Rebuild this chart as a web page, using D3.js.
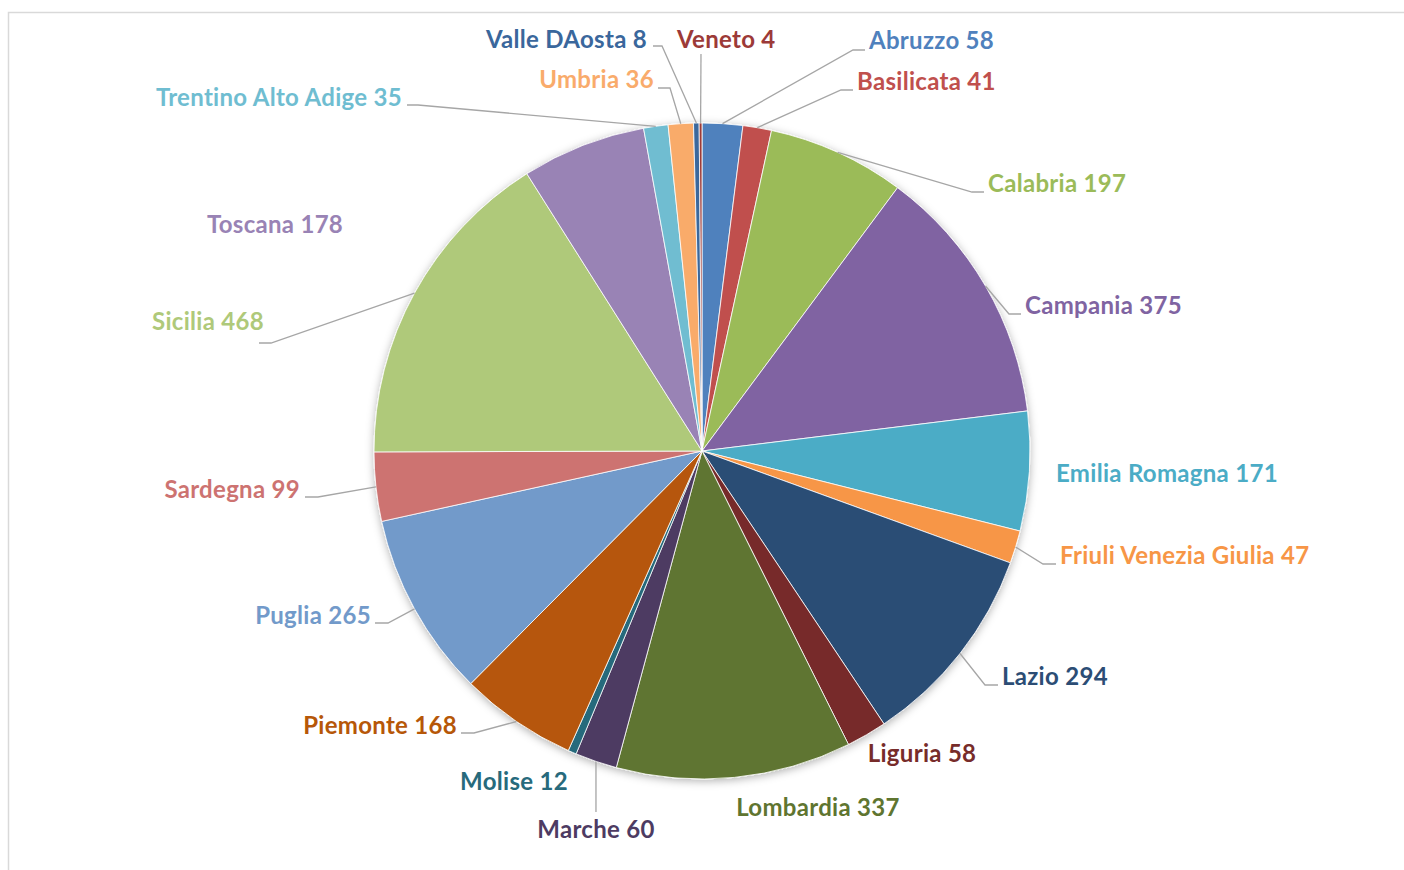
<!DOCTYPE html>
<html>
<head>
<meta charset="utf-8">
<script src="https://cdn.jsdelivr.net/npm/d3@7"></script>
<style>
  body { margin: 0; background: #fff; }
  text { font-family: Lato, "Open Sans", sans-serif; font-weight: bold; }
</style>
</head>
<body>
<script>
var w = 1404;
var h = 870;

// regions and counts, in the order they are drawn clockwise from 12 o'clock
var regions = ["Abruzzo", "Basilicata", "Calabria", "Campania", "Emilia Romagna",
  "Friuli Venezia Giulia", "Lazio", "Liguria", "Lombardia", "Marche", "Molise",
  "Piemonte", "Puglia", "Sardegna", "Sicilia", "Toscana", "Trentino Alto Adige",
  "Umbria", "Valle DAosta", "Veneto"];
var values = [58, 41, 197, 375, 171, 47, 294, 58, 337, 60, 12, 168, 265, 99, 468, 178, 35, 36, 8, 4];
var colors = ["#4f81bd", "#c0504d", "#9bbb59", "#8064a2", "#4bacc6", "#f79646",
  "#2c4d75", "#772c2a", "#5f7530", "#4d3b62", "#276a7c", "#b65708",
  "#729aca", "#cd7371", "#afc97a", "#9983b5", "#6fbdd1", "#f9ab6b",
  "#3a679c", "#9c3a38"];

// label placement (text x, baseline y, anchor, leader: [x near label, elbow x, y])
var labelPos = {
  "Abruzzo": [869, 49, "start", [865, 853, 50]],
  "Basilicata": [857, 90, "start", [853, 841, 90]],
  "Calabria": [988, 192, "start", [984, 972, 192]],
  "Campania": [1025, 314, "start", [1021, 1009, 314]],
  "Emilia Romagna": [1056, 482, "start", null],
  "Friuli Venezia Giulia": [1060, 564, "start", [1056, 1043, 564]],
  "Lazio": [1002, 685, "start", [998, 985, 685]],
  "Liguria": [922, 762, "middle", null],
  "Lombardia": [818, 816, "middle", null],
  "Marche": [596, 838, "middle", [596, 596, 812]],
  "Molise": [514, 790, "middle", null],
  "Piemonte": [457, 734, "end", [461, 474, 733]],
  "Puglia": [371, 624, "end", [375, 388, 623]],
  "Sardegna": [300, 498, "end", [305, 318, 497]],
  "Sicilia": [264, 330, "end", [259, 271, 343]],
  "Toscana": [275, 233, "middle", null],
  "Trentino Alto Adige": [402, 106, "end", [407, 418, 105]],
  "Umbria": [654, 88, "end", [658, 670, 88]],
  "Valle DAosta": [647, 48, "end", [653, 662, 46]],
  "Veneto": [677, 48, "start", [701, 701, 54]]
};

var cx = 702, cy = 451, r = 328;

var svg = d3.select("body").append("svg")
  .attr("width", w)
  .attr("height", h);

svg.append("rect")
  .attr("x", 8.5).attr("y", 12.5)
  .attr("width", 1500).attr("height", 1000)
  .attr("fill", "#fff")
  .attr("stroke", "#d9d9d9")
  .attr("stroke-width", 1.5);

var defs = svg.append("defs");
var f = defs.append("filter").attr("id", "shadow")
  .attr("x", "-10%").attr("y", "-10%").attr("width", "120%").attr("height", "120%");
f.append("feDropShadow")
  .attr("dx", 0).attr("dy", 2)
  .attr("stdDeviation", 4)
  .attr("flood-color", "#000")
  .attr("flood-opacity", 0.3);

var data = regions.map(function(d, i) {
  return { name: d, value: values[i], color: colors[i] };
});

var pie = d3.pie().sort(null).value(function(d) { return d.value; });
var arcs = pie(data);

var arc = d3.arc().innerRadius(0).outerRadius(r);

var g = svg.append("g").attr("transform", "translate(" + cx + "," + cy + ")");

g.append("g").attr("filter", "url(#shadow)")
  .selectAll("path")
  .data(arcs)
  .enter()
  .append("path")
  .attr("d", arc)
  .attr("fill", function(d) { return d.data.color; })
  .attr("stroke", "#fff")
  .attr("stroke-width", 0.8);

// leader lines
arcs.forEach(function(d) {
  var p = labelPos[d.data.name];
  if (!p[3]) return;
  var mid = (d.startAngle + d.endAngle) / 2;
  var sx = cx + r * Math.sin(mid);
  var sy = cy - r * Math.cos(mid);
  var l = p[3];
  svg.append("polyline")
    .attr("points", [[sx, sy], [l[1], l[2]], [l[0], l[2]]].map(function(q) { return q.join(","); }).join(" "))
    .attr("fill", "none")
    .attr("stroke", "#a6a6a6")
    .attr("stroke-width", 1.3);
});

svg.selectAll("text.lbl")
  .data(arcs)
  .enter()
  .append("text")
  .attr("class", "lbl")
  .attr("x", function(d) { return labelPos[d.data.name][0]; })
  .attr("y", function(d) { return labelPos[d.data.name][1]; })
  .attr("text-anchor", function(d) { return labelPos[d.data.name][2]; })
  .attr("fill", function(d) { return d.data.color; })
  .style("font-size", "24px")
  .style("letter-spacing", "0.3px")
  .text(function(d) { return d.data.name + " " + d.data.value; });
</script>
</body>
</html>
